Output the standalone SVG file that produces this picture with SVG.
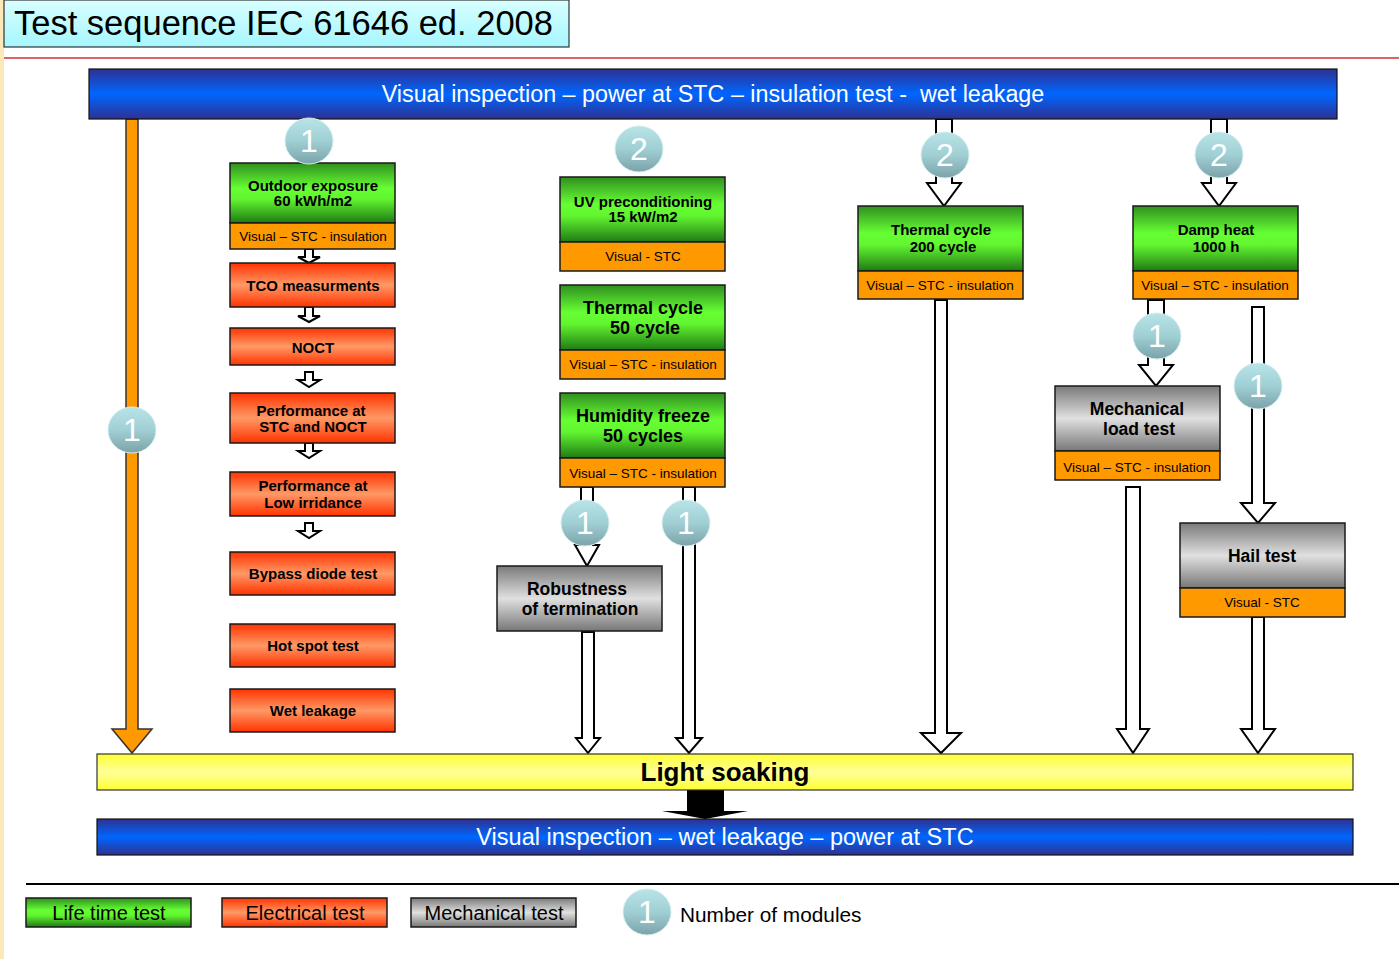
<svg xmlns="http://www.w3.org/2000/svg" width="1399" height="959" viewBox="0 0 1399 959">
<defs>
<linearGradient id="gGreen" x1="0" y1="0" x2="0" y2="1">
<stop offset="0" stop-color="#2f8f1f"/><stop offset="0.42" stop-color="#66ff33"/><stop offset="0.6" stop-color="#62f530"/><stop offset="1" stop-color="#1f7a14"/>
</linearGradient>
<linearGradient id="gRed" x1="0" y1="0" x2="0" y2="1">
<stop offset="0" stop-color="#ff3300"/><stop offset="0.5" stop-color="#ff9966"/><stop offset="1" stop-color="#ff3300"/>
</linearGradient>
<linearGradient id="gGray" x1="0" y1="0" x2="0" y2="1">
<stop offset="0" stop-color="#7a7a7a"/><stop offset="0.5" stop-color="#e0e0e0"/><stop offset="1" stop-color="#777777"/>
</linearGradient>
<linearGradient id="gBlue" x1="0" y1="0" x2="0" y2="1">
<stop offset="0" stop-color="#2e3192"/><stop offset="0.5" stop-color="#0066ff"/><stop offset="1" stop-color="#2e3192"/>
</linearGradient>
<linearGradient id="gYellow" x1="0" y1="0" x2="0" y2="1">
<stop offset="0" stop-color="#ffff33"/><stop offset="0.5" stop-color="#ffff99"/><stop offset="1" stop-color="#ffff33"/>
</linearGradient>
<linearGradient id="gCyan" x1="0" y1="0" x2="0" y2="1">
<stop offset="0" stop-color="#d8ffff"/><stop offset="1" stop-color="#a6f6ff"/>
</linearGradient>
<linearGradient id="gCircle" x1="0" y1="0" x2="0" y2="1">
<stop offset="0" stop-color="#b8e4e7"/><stop offset="0.5" stop-color="#a0cfd4"/><stop offset="1" stop-color="#7ba3a9"/>
</linearGradient>
<style>
.t{font-family:"Liberation Sans",Arial,sans-serif;text-anchor:middle;fill:#000}
.b{font-weight:bold}
.box{stroke:#1a1a1a;stroke-width:1.5}
.green{fill:url(#gGreen)}
.red{fill:url(#gRed)}
.gray{fill:url(#gGray)}
.orange{fill:#ff9900}
.arr{fill:#ffffff;stroke:#000;stroke-width:2;stroke-linejoin:miter}
.circ{fill:url(#gCircle);stroke:#d5eef0;stroke-width:1}
.num{font-family:"Liberation Sans",Arial,sans-serif;text-anchor:middle;fill:#ffffff;font-size:32px}
.sub{font-size:13.5px}
.b15{font-size:15px;font-weight:bold}
.b17{font-size:17.5px;font-weight:bold}
.white{fill:#ffffff}
</style>
</defs>
<rect x="0" y="0" width="1399" height="959" fill="#ffffff"/>
<rect x="0" y="0" width="4" height="959" fill="#fde8b8"/>

<g id="title">
<rect x="4" y="0" width="565" height="47" fill="url(#gCyan)" stroke="#333" stroke-width="1.2"/>
<text x="14" y="35" font-family="Liberation Sans, Arial, sans-serif" font-size="34.5px" fill="#000">Test sequence IEC 61646 ed. 2008</text>
</g>
<line x1="4" y1="58" x2="1399" y2="58" stroke="#d03030" stroke-width="1.5"/>

<g id="connectors">
<polygon points="126,119 138,119 138,729 152,729 132,753 112,729 126,729" fill="#ff9900" stroke="#333" stroke-width="1.5"/>
<polygon class="arr" points="305,249 313,249 313,257 320,257 309,263 298,257 305,257"/>
<polygon class="arr" points="305,307 313,307 313,316 320,316 309,322 298,316 305,316"/>
<polygon class="arr" points="305,372 313,372 313,380 320,380 309,387 298,380 305,380"/>
<polygon class="arr" points="305,443 313,443 313,451 320,451 309,458 298,451 305,451"/>
<polygon class="arr" points="305,523 313,523 313,531 320,531 309,538 298,531 305,531"/>
<polygon class="arr" points="581,487 593,487 593,545 599,545 587,566 575,545 581,545"/>
<polygon class="arr" points="683,487 695,487 695,738 702,738 689,753 676,738 683,738"/>
<polygon class="arr" points="582,632 594,632 594,738 600,738 588,753 576,738 582,738"/>
<polygon class="arr" points="936,119 952,119 952,183 961,183 944,206 927,183 936,183"/>
<polygon class="arr" points="935,300 947,300 947,733 961,733 941,753 921,733 935,733"/>
<polygon class="arr" points="1211,119 1227,119 1227,183 1236,183 1219,206 1202,183 1211,183"/>
<polygon class="arr" points="1148,300 1164,300 1164,365 1173,365 1156,386 1139,365 1148,365"/>
<polygon class="arr" points="1126,487 1140,487 1140,729 1149,729 1133,753 1117,729 1126,729"/>
<polygon class="arr" points="1252,307 1264,307 1264,503 1275,503 1258,523 1241,503 1252,503"/>
<polygon class="arr" points="1252,617 1264,617 1264,729 1275,729 1258,753 1241,729 1252,729"/>
<polygon points="687,790 724,790 724,811 748,811 705,819 662,811 687,811" fill="#000"/>
</g>

<g id="top-bar">
<rect x="89" y="69" width="1248" height="50" fill="url(#gBlue)" stroke="#111" stroke-width="1.2"/>
<text class="t white" x="713" y="102" font-size="23.3px" style="white-space:pre">Visual inspection – power at STC – insulation test -  wet leakage</text>
</g>

<g id="outdoor">
<rect class="box green" x="230" y="163" width="165" height="60"/>
<rect class="box orange" x="230" y="223" width="165" height="26"/>
<text class="t b15" x="313" y="191">Outdoor exposure</text>
<text class="t b15" x="313" y="206">60 kWh/m2</text>
<text class="t sub" x="313" y="241">Visual – STC - insulation</text>
</g>
<g id="tco">
<rect class="box red" x="230" y="263" width="165" height="44"/>
<text class="t b15" x="313" y="291">TCO measurments</text>
</g>
<g id="noct">
<rect class="box red" x="230" y="328" width="165" height="37"/>
<text class="t b15" x="313" y="353">NOCT</text>
</g>
<g id="perf-stc">
<rect class="box red" x="230" y="393" width="165" height="50"/>
<text class="t b15" x="311" y="416">Performance at</text>
<text class="t b15" x="313" y="432">STC and NOCT</text>
</g>
<g id="perf-low">
<rect class="box red" x="230" y="472" width="165" height="44"/>
<text class="t b15" x="313" y="491">Performance at</text>
<text class="t b15" x="313" y="508">Low irridance</text>
</g>
<g id="bypass">
<rect class="box red" x="230" y="552" width="165" height="43"/>
<text class="t b15" x="313" y="579">Bypass diode test</text>
</g>
<g id="hotspot">
<rect class="box red" x="230" y="624" width="165" height="43"/>
<text class="t b15" x="313" y="651">Hot spot test</text>
</g>
<g id="wet">
<rect class="box red" x="230" y="689" width="165" height="43"/>
<text class="t b15" x="313" y="716">Wet leakage</text>
</g>

<g id="uv">
<rect class="box green" x="560" y="177" width="165" height="65"/>
<rect class="box orange" x="560" y="242" width="165" height="29"/>
<text class="t b15" x="643" y="207">UV preconditioning</text>
<text class="t b15" x="643" y="222">15 kW/m2</text>
<text class="t sub" x="643" y="261">Visual - STC</text>
</g>
<g id="thermal50">
<rect class="box green" x="560" y="285" width="165" height="65"/>
<rect class="box orange" x="560" y="350" width="165" height="29"/>
<text class="t" x="643" y="314" font-size="18px" font-weight="bold">Thermal cycle</text>
<text class="t" x="645" y="334" font-size="18px" font-weight="bold">50 cycle</text>
<text class="t sub" x="643" y="369">Visual – STC - insulation</text>
</g>
<g id="humidity">
<rect class="box green" x="560" y="393" width="165" height="65"/>
<rect class="box orange" x="560" y="458" width="165" height="29"/>
<text class="t" x="643" y="422" font-size="18px" font-weight="bold">Humidity freeze</text>
<text class="t" x="643" y="442" font-size="18px" font-weight="bold">50 cycles</text>
<text class="t sub" x="643" y="478">Visual – STC - insulation</text>
</g>
<g id="robustness">
<rect class="box gray" x="497" y="566" width="165" height="65"/>
<text class="t b17" x="577" y="595">Robustness</text>
<text class="t b17" x="580" y="615">of termination</text>
</g>

<g id="thermal200">
<rect class="box green" x="858" y="206" width="165" height="65"/>
<rect class="box orange" x="858" y="271" width="165" height="28"/>
<text class="t b15" x="941" y="235">Thermal cycle</text>
<text class="t b15" x="943" y="252">200 cycle</text>
<text class="t sub" x="940" y="290">Visual – STC - insulation</text>
</g>
<g id="damp">
<rect class="box green" x="1133" y="206" width="165" height="65"/>
<rect class="box orange" x="1133" y="271" width="165" height="28"/>
<text class="t b15" x="1216" y="235">Damp heat</text>
<text class="t b15" x="1216" y="252">1000 h</text>
<text class="t sub" x="1215" y="290">Visual – STC - insulation</text>
</g>
<g id="mechanical">
<rect class="box gray" x="1055" y="386" width="165" height="65"/>
<rect class="box orange" x="1055" y="451" width="165" height="29"/>
<text class="t b17" x="1137" y="415">Mechanical</text>
<text class="t b17" x="1139" y="435">load test</text>
<text class="t sub" x="1137" y="472">Visual – STC - insulation</text>
</g>
<g id="hail">
<rect class="box gray" x="1180" y="523" width="165" height="65"/>
<rect class="box orange" x="1180" y="588" width="165" height="29"/>
<text class="t b17" x="1262" y="562">Hail test</text>
<text class="t sub" x="1262" y="607">Visual - STC</text>
</g>

<g id="counts">
<ellipse class="circ" cx="132" cy="430" rx="24" ry="23"/><text class="num" x="132" y="441">1</text>
<ellipse class="circ" cx="309" cy="141" rx="24" ry="23"/><text class="num" x="309" y="152">1</text>
<ellipse class="circ" cx="639" cy="149" rx="24" ry="23"/><text class="num" x="639" y="160">2</text>
<ellipse class="circ" cx="585" cy="523" rx="24" ry="23"/><text class="num" x="585" y="534">1</text>
<ellipse class="circ" cx="686" cy="523" rx="24" ry="23"/><text class="num" x="686" y="534">1</text>
<ellipse class="circ" cx="945" cy="155" rx="24" ry="23"/><text class="num" x="945" y="166">2</text>
<ellipse class="circ" cx="1219" cy="155" rx="24" ry="23"/><text class="num" x="1219" y="166">2</text>
<ellipse class="circ" cx="1157" cy="336" rx="24" ry="23"/><text class="num" x="1157" y="347">1</text>
<ellipse class="circ" cx="1258" cy="386" rx="24" ry="23"/><text class="num" x="1258" y="397">1</text>
</g>

<g id="light-soaking">
<rect x="97" y="754" width="1256" height="36" fill="url(#gYellow)" stroke="#333" stroke-width="1.2"/>
<text class="t b" x="725" y="781" font-size="26px">Light soaking</text>
</g>
<g id="bottom-bar">
<rect x="97" y="819" width="1256" height="36" fill="url(#gBlue)" stroke="#111" stroke-width="1.2"/>
<text class="t white" x="725" y="845" font-size="23.5px">Visual inspection – wet leakage – power at STC</text>
</g>

<line x1="26" y1="884" x2="1399" y2="884" stroke="#000" stroke-width="2"/>
<g id="legend-life">
<rect class="box green" x="26" y="898" width="165" height="29"/>
<text class="t" x="109" y="920" font-size="20px">Life time test</text>
</g>
<g id="legend-electrical">
<rect class="box red" x="222" y="898" width="165" height="29"/>
<text class="t" x="305" y="920" font-size="20px">Electrical test</text>
</g>
<g id="legend-mechanical">
<rect class="box gray" x="411" y="898" width="165" height="29"/>
<text class="t" x="494" y="920" font-size="20px">Mechanical test</text>
</g>
<g id="legend-modules">
<ellipse class="circ" cx="647" cy="912" rx="24" ry="23"/><text class="num" x="647" y="923">1</text>
<text x="680" y="922" font-family="Liberation Sans, Arial, sans-serif" font-size="20.8px" fill="#000">Number of modules</text>
</g>
</svg>
